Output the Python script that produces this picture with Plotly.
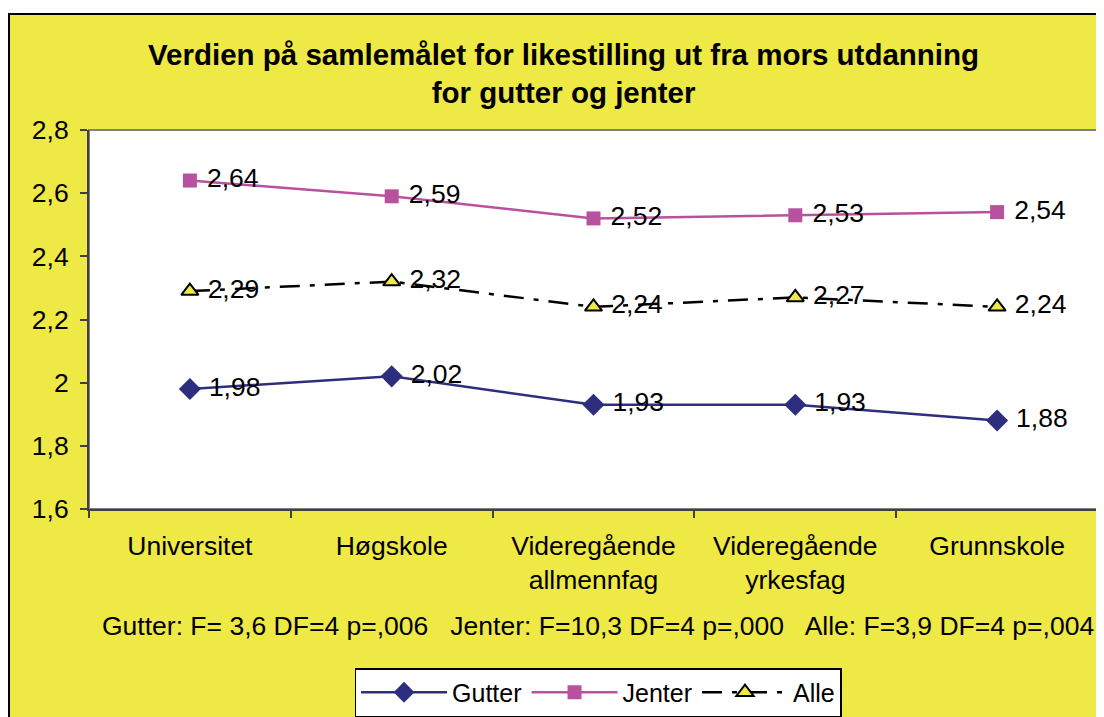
import plotly.graph_objects as go

# Kategorier (mors utdanning) og verdier
kategorier = ["Universitet", "Høgskole", "Videregående<br>allmennfag",
              "Videregående<br>yrkesfag", "Grunnskole"]
gutter = [1.98, 2.02, 1.93, 1.93, 1.88]
jenter = [2.64, 2.59, 2.52, 2.53, 2.54]
alle = [2.29, 2.32, 2.24, 2.27, 2.24]
y_ticks = [1.6, 1.8, 2.0, 2.2, 2.4, 2.6, 2.8]

tittel = "Verdien på samlemålet for likestilling ut fra mors utdanning<br>for gutter og jenter"
fotnote = ("Gutter: F= 3,6 DF=4 p=,006   Jenter: F=10,3 DF=4 p=,000   "
           "Alle: F=3,9 DF=4 p=,004")

FONT = "Liberation Sans, Arial, sans-serif"
GUL = "#EEE945"
STR = 26.5  # skriftstørrelse


def etiketter(verdier):
    # liten luft mellom markør og etikett, som i Excel
    return ["\u00a0" + f"{v:.2f}".replace(".", ",") for v in verdier]


fig = go.Figure()

fig.add_trace(go.Scatter(
    x=kategorier, y=gutter, name="Gutter", mode="lines+markers+text",
    line=dict(color="#2E2E7E", width=2.5),
    marker=dict(symbol="diamond", size=17, color="#2E2E7E"),
    text=etiketter(gutter), textposition="middle right",
    textfont=dict(size=STR, color="black", family=FONT),
))
fig.add_trace(go.Scatter(
    x=kategorier, y=jenter, name="Jenter", mode="lines+markers+text",
    line=dict(color="#B8529F", width=2.5),
    marker=dict(symbol="square", size=14, color="#B8529F"),
    text=etiketter(jenter), textposition="middle right",
    textfont=dict(size=STR, color="black", family=FONT),
))
fig.add_trace(go.Scatter(
    x=kategorier, y=alle, name="Alle", mode="lines+markers+text",
    line=dict(color="black", width=2.5, dash="20px,10px,5px,10px"),
    marker=dict(symbol="triangle-up", size=15, color="#EEE945",
                line=dict(color="black", width=2)),
    text=etiketter(alle), textposition="middle right",
    textfont=dict(size=STR, color="black", family=FONT),
))

# Ramme rundt diagramområdet (figuren ligger 8px inn på siden)
venstre = -81 / 1009
topp = 1 + (122 - 6) / 379
shapes = [
    dict(type="rect", xref="paper", yref="paper", x0=-0.2, x1=1.2,
         y0=topp, y1=2, fillcolor="white", line_width=0, layer="below"),
    dict(type="line", xref="paper", yref="paper", x0=venstre, x1=1.2,
         y0=topp, y1=topp, line=dict(color="black", width=2)),
    dict(type="line", xref="paper", yref="paper", x0=venstre + 0.001,
         x1=venstre + 0.001, y0=-1, y1=topp, line=dict(color="black", width=2)),
    dict(type="rect", xref="paper", yref="paper", x0=0, x1=1, y0=0, y1=1,
         line=dict(color="#808080", width=2), layer="below"),
]

fig.update_layout(
    width=1096, height=709,
    margin=dict(l=81, r=6, t=122, b=208),
    paper_bgcolor=GUL, plot_bgcolor="white",
    separators=", ",
    font=dict(family=FONT, size=STR, color="black"),
    showlegend=True,
    legend=dict(
        orientation="h", xref="paper", x=0.5045, xanchor="center",
        yref="container", y=1 - 660 / 709, yanchor="top",
        bgcolor="white", bordercolor="black", borderwidth=1.5,
        font=dict(size=25), itemwidth=86, tracegroupgap=0,
    ),
    shapes=shapes,
    annotations=[
        dict(text=tittel, xref="paper", yref="paper", x=0.47, y=1.148,
             xanchor="center", yanchor="middle", showarrow=False,
             font=dict(size=29.5, family=FONT, color="black", weight="bold")),
        dict(text=fotnote, xref="paper", yref="paper", x=0.5045, y=-0.3087,
             xanchor="center", yanchor="middle", showarrow=False,
             font=dict(size=STR, family=FONT, color="black")),
    ],
    xaxis=dict(
        type="category", range=[-0.5, 4.5], showgrid=False, automargin=False,
        showline=True, linecolor="#404040", linewidth=2,
        ticks="outside", tickson="boundaries", ticklen=7, tickwidth=1.5,
        tickcolor="#404040", ticklabelstandoff=12,
        tickfont=dict(size=STR),
    ),
    yaxis=dict(
        range=[1.6, 2.8], tickvals=y_ticks, showgrid=False, zeroline=False,
        automargin=False, showline=True, linecolor="#404040", linewidth=2,
        ticks="outside", ticklen=7, tickwidth=1.5, tickcolor="#404040",
        ticklabelstandoff=6, tickfont=dict(size=STR),
    ),
)

fig.write_html("out.html")
